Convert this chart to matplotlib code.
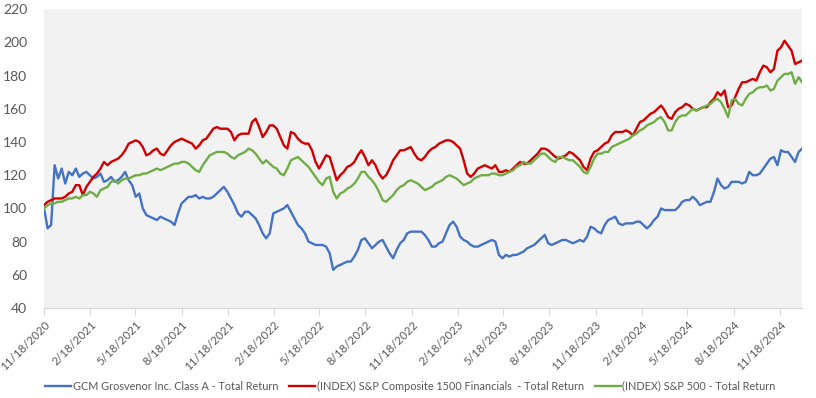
import matplotlib
matplotlib.use("Agg")
import matplotlib.pyplot as plt
import pandas as pd

plt.rcParams["font.family"] = ["Lato", "DejaVu Sans"]

# weekly closes, indexed to 100 at 11/18/2020
dates = pd.date_range("2020-11-18", periods=216, freq="7D")

gcmg = [
    100, 88, 90, 126, 118, 124, 115, 122, 120, 124,
    119, 121, 122, 120, 118, 119, 121, 116, 117, 119,
    116, 117, 119, 122, 117, 114, 107, 109, 100, 96,
    95, 94, 93, 95, 94, 93, 92, 90, 97, 103,
    105, 107, 107, 108, 106, 107, 106, 106, 107, 109,
    111, 113, 110, 106, 102, 97, 95, 98, 98, 96,
    94, 90, 85, 82, 85, 97, 98, 99, 100, 102,
    98, 94, 90, 88, 85, 80, 79, 78, 78, 78,
    77, 73, 63, 65, 66, 67, 68, 68, 71, 75,
    81, 82, 79, 76, 78, 80, 81, 77, 73, 70,
    75, 79, 81, 85, 86, 86, 86, 86, 84, 81,
    77, 77, 79, 80, 85, 90, 92, 89, 83, 81,
    80, 78, 77, 77, 78, 79, 80, 81, 80, 72,
    70, 72, 71, 72, 72, 73, 74, 76, 77, 78,
    80, 82, 84, 79, 78, 79, 80, 81, 81, 80,
    79, 80, 81, 80, 83, 89, 88, 86, 85, 90,
    93, 94, 95, 91, 90, 91, 91, 91, 92, 92,
    90, 88, 90, 93, 95, 100, 99, 99, 99, 99,
    101, 104, 105, 105, 107, 105, 102, 103, 104, 104,
    110, 118, 114, 112, 113, 116, 116, 116, 115, 116,
    122, 120, 120, 121, 124, 127, 130, 131, 126, 135,
    134, 134, 131, 128, 134, 136,
]

financials = [
    102, 104, 105, 106, 106, 106, 107, 109, 110, 114,
    114, 108, 113, 116, 119, 121, 124, 128, 126, 128,
    129, 130, 132, 135, 139, 140, 141, 140, 137, 132,
    133, 135, 136, 133, 132, 135, 138, 140, 141, 142,
    141, 140, 139, 136, 138, 141, 142, 145, 148, 149,
    148, 148, 148, 146, 141, 144, 145, 145, 145, 152,
    154, 149, 143, 146, 150, 150, 148, 143, 138, 136,
    146, 145, 142, 140, 139, 139, 135, 128, 124, 128,
    132, 131, 124, 117, 120, 122, 125, 126, 128, 132,
    135, 131, 126, 129, 126, 121, 118, 120, 124, 129,
    132, 135, 135, 136, 137, 133, 130, 129, 131, 134,
    136, 137, 139, 140, 141, 141, 140, 138, 136, 129,
    121, 119, 121, 124, 125, 126, 125, 124, 126, 122,
    122, 123, 122, 124, 126, 128, 127, 127, 129, 131,
    133, 136, 136, 135, 133, 131, 130, 131, 132, 134,
    133, 131, 129, 125, 123, 130, 134, 135, 137, 139,
    140, 144, 146, 146, 146, 147, 146, 144, 148, 152,
    153, 155, 157, 158, 160, 162, 159, 155, 154, 158,
    160, 161, 163, 162, 160, 159, 160, 161, 161, 164,
    166, 170, 168, 171, 161, 162, 167, 172, 176, 176,
    177, 178, 177, 182, 186, 185, 182, 184, 195, 197,
    201, 198, 195, 187, 188, 189,
]

sp500 = [
    100, 102, 103, 103, 104, 104, 105, 106, 106, 107,
    106, 108, 108, 110, 109, 107, 111, 112, 113, 116,
    117, 115, 117, 118, 118, 119, 120, 120, 121, 121,
    122, 123, 124, 123, 124, 125, 126, 127, 127, 128,
    128, 127, 125, 123, 122, 126, 129, 132, 133, 134,
    134, 134, 133, 131, 130, 132, 133, 134, 136, 135,
    133, 130, 127, 129, 127, 125, 124, 121, 120, 124,
    129, 130, 131, 129, 127, 125, 122, 119, 116, 114,
    118, 119, 110, 106, 109, 110, 112, 113, 115, 118,
    122, 122, 119, 117, 114, 110, 105, 104, 106, 108,
    111, 113, 114, 116, 117, 116, 115, 113, 111, 112,
    113, 115, 116, 117, 119, 120, 119, 118, 116, 114,
    115, 116, 118, 119, 120, 120, 120, 121, 121, 120,
    120, 121, 122, 123, 125, 126, 128, 127, 127, 129,
    131, 133, 133, 131, 129, 128, 131, 131, 130, 129,
    129, 127, 125, 122, 121, 125, 130, 133, 133, 134,
    134, 137, 138, 139, 140, 141, 142, 144, 145, 147,
    148, 150, 151, 152, 154, 155, 152, 147, 147, 152,
    155, 156, 156, 158, 160, 159, 160, 161, 162, 163,
    165, 166, 164, 160, 155, 165, 166, 163, 162, 166,
    169, 170, 172, 173, 173, 174, 171, 172, 177, 179,
    181, 181, 182, 175, 179, 176,
]

tick_dates = pd.date_range("2020-11-01", "2024-11-01", freq="3MS") + pd.Timedelta(days=17)
tick_labels = [f"{d.month}/{d.day}/{d.year}" for d in tick_dates]

names = ["GCM Grosvenor Inc. Class A - Total Return",
         "(INDEX) S&P Composite 1500 Financials  - Total Return",
         "(INDEX) S&P 500 - Total Return"]
colors = ["#4472C4", "#D00000", "#70AD47"]

fig = plt.figure(figsize=(8.16, 3.98), dpi=100)
ax = fig.add_axes([0.054, 0.226, 0.929, 0.751])
ax.set_facecolor("#F2F2F2")

for series, name, c in zip([gcmg, financials, sp500], names, colors):
    ax.plot(dates, series, color=c, linewidth=1.7, label=name)

ax.set_xlim(dates[0], dates[-1])
ax.set_ylim(40, 220)
ax.set_yticks(range(40, 221, 20))
ax.set_xticks(tick_dates)
ax.set_xticklabels(tick_labels, rotation=45, ha="right", rotation_mode="anchor")

for s in ["top", "right", "left"]:
    ax.spines[s].set_visible(False)
ax.spines["bottom"].set_color("#D9D9D9")
ax.tick_params(axis="y", length=0, pad=12, labelsize=10, labelcolor="#595959")
ax.tick_params(axis="x", length=5, color="#D9D9D9", labelsize=8.3, labelcolor="#595959", pad=3)

leg = fig.legend(loc="center", bbox_to_anchor=(0.503, 0.03), ncol=3, frameon=False,
                 prop={"size": 7.8}, handlelength=2.4, handletextpad=0.15, columnspacing=1.0)
for t in leg.get_texts():
    t.set_color("#595959")

fig.savefig("out.png", dpi=100)
